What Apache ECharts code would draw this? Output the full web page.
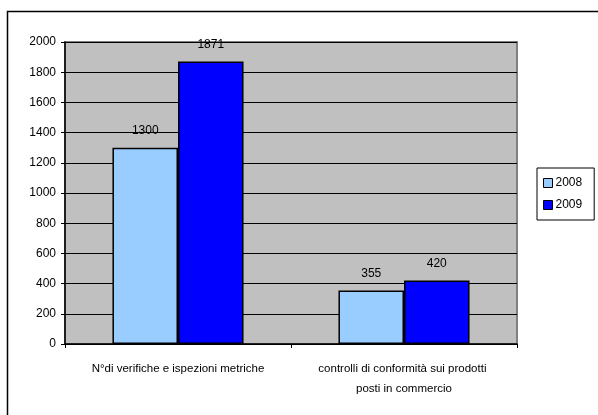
<!DOCTYPE html>
<html><head><meta charset="utf-8">
<script src="https://cdn.jsdelivr.net/npm/echarts@6/dist/echarts.min.js"></script>
<style>html,body{margin:0;padding:0;background:#fff;}#c{width:598px;height:415px;}</style>
</head><body><div id="c"></div>
<script>
var categories = ["N°di verifiche e ispezioni metriche", "controlli di conformità sui prodotti posti in commercio"];
var seriesNames = ["2008", "2009"];
var values2008 = [1300, 355];
var values2009 = [1871, 420];
var yTicks = [0, 200, 400, 600, 800, 1000, 1200, 1400, 1600, 1800, 2000];

var chart = echarts.init(document.getElementById('c'));
var font = 'Liberation Sans, Arial, sans-serif';
chart.setOption({
  animation: false,
  textStyle: {fontFamily: font},
  graphic: [{
    type: 'rect', left: 5, top: 9, silent: true,
    shape: {width: 620, height: 430},
    style: {fill: 'none', stroke: '#000', lineWidth: 1.5}
  }],
  grid: {left: 65, top: 42, width: 452, height: 302, show: true,
    backgroundColor: '#C0C0C0', borderColor: '#808080', borderWidth: 2},
  legend: {
    orient: 'vertical', left: 537, top: 168,
    padding: [9, 12, 9, 6], itemGap: 10,
    itemWidth: 9, itemHeight: 9, icon: 'rect',
    borderColor: '#000', borderWidth: 1,
    itemStyle: {borderColor: '#000', borderWidth: 1},
    textStyle: {fontSize: 12, color: '#000', fontFamily: font, padding: [0, 0, 0, -2]},
    data: seriesNames
  },
  xAxis: {
    type: 'category', data: categories,
    axisLine: {lineStyle: {color: '#000', width: 1.5}},
    axisTick: {show: true, length: 4, lineStyle: {color: '#000'}},
    axisLabel: {fontSize: 11.5, color: '#000', margin: 15, width: 185, overflow: 'break', lineHeight: 20, interval: 0}
  },
  yAxis: {
    type: 'value', min: 0, max: 2000, interval: 200,
    axisLine: {show: true, lineStyle: {color: '#000', width: 1.5}},
    axisTick: {show: true, length: 4, lineStyle: {color: '#000'}},
    axisLabel: {fontSize: 12, color: '#000', margin: 9,
      formatter: function (v) { return yTicks.indexOf(v) >= 0 ? String(v) : ''; }},
    splitLine: {lineStyle: {color: '#000', width: 1}}
  },
  series: [
    {name: seriesNames[0], type: 'bar', data: values2008, barGap: '0%', barCategoryGap: '42%',
      itemStyle: {color: '#99CCFF', borderColor: '#000', borderWidth: 1.5},
      label: {show: true, position: 'top', distance: 11, fontSize: 12, color: '#000'}},
    {name: seriesNames[1], type: 'bar', data: values2009, barGap: '0%', barCategoryGap: '42%',
      itemStyle: {color: '#0000FF', borderColor: '#000', borderWidth: 1.5},
      label: {show: true, position: 'top', distance: 11, fontSize: 12, color: '#000'}}
  ]
});
</script></body></html>
